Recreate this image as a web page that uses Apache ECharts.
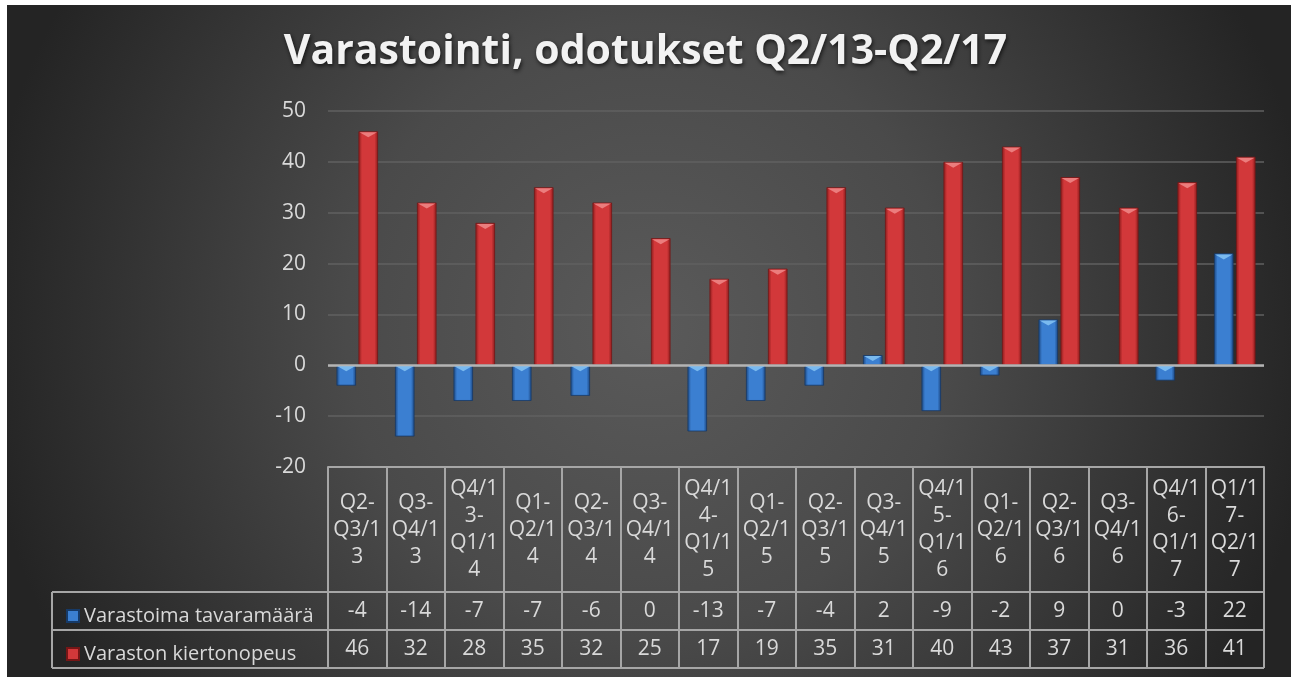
<!DOCTYPE html>
<html>
<head>
<meta charset="utf-8">
<script src="https://cdn.jsdelivr.net/npm/echarts@6/dist/echarts.min.js"></script>
<style>
html,body{margin:0;padding:0;background:#fff;}
#main{width:1291px;height:677px;}
</style>
</head>
<body>
<div id="main"></div>
<script>
var categories = ['Q2-Q3/13','Q3-Q4/13','Q4/13-Q1/14','Q1-Q2/14','Q2-Q3/14','Q3-Q4/14','Q4/14-Q1/15','Q1-Q2/15',
    'Q2-Q3/15','Q3-Q4/15','Q4/15-Q1/16','Q1-Q2/16','Q2-Q3/16','Q3-Q4/16','Q4/16-Q1/17','Q1/17-Q2/17'];
var tavaramaara = [-4,-14,-7,-7,-6,0,-13,-7,-4,2,-9,-2,9,0,-3,22];
var kiertonopeus = [46,32,28,35,32,25,17,19,35,31,40,43,37,31,36,41];
var yTicks = {min:-20, max:50, step:10};

var FONT = '"Open Sans", sans-serif';
var TXT = '#d9d9d9';
var LINE = '#a6a6a6';
var FS = 21;

/* rivitys kuten excelissä: viivan jälkeen ja 4 merkin paloihin */
function wrap(s){
    var parts = s.split(/(?<=-)/);
    var out = [];
    parts.forEach(function(p){
        for(var i=0;i<p.length;i+=4){ out.push(p.substr(i,4)); }
    });
    var res = [];
    out.forEach(function(l){
        if(l==='-' && res.length){ res[res.length-1]+='-'; } else { res.push(l); }
    });
    return res.join('\n');
}

var gridL = 328, gridR = 1264, gridT = 111, gridB = 467;
var row1 = 592, row2 = 630, row3 = 668, tableL = 52;
var BW = 19.5, GAP = 2.5;

var myChart = echarts.init(document.getElementById('main'));

function barColor(dark, light){
    return new echarts.graphic.LinearGradient(0,0,1,0,[
        {offset:0,color:dark},{offset:0.18,color:light},{offset:0.5,color:light},{offset:0.82,color:light},{offset:1,color:dark}
    ]);
}

/* viisteen kolmiot palkkien yläreunaan */
function bevel(params, api){
    var i = api.value(0);
    var base = api.coord([i, 0]);
    var off = (BW + GAP) / 2;
    var items = [];
    [[api.value(1), -off, '#86c4f5'], [api.value(2), off, '#f08a8a']].forEach(function(d){
        if(d[0] === 0) return;
        var top = api.coord([i, Math.max(d[0], 0)])[1];
        var cx = base[0] + d[1];
        items.push({type:'polygon',shape:{points:[[cx-BW/2+1,top+1],[cx+BW/2-1,top+1],[cx,top+6]]},
            style:{fill:d[2],opacity:0.85}});
    });
    return {type:'group',children:items};
}

var option = {
    animation:false,
    title:{
        text:'Varastointi, odotukset Q2/13-Q2/17',
        left:'center', top:27,
        textStyle:{color:'#f2f2f2',fontSize:41,fontWeight:'bold',fontFamily:FONT,
            textShadowColor:'rgba(0,0,0,0.7)',textShadowBlur:4,textShadowOffsetY:2,textShadowOffsetX:1}
    },
    legend:{
        orient:'vertical', left:61, top:600,
        itemWidth:12, itemHeight:12, itemGap:16,
        icon:'rect',
        textStyle:{color:TXT,fontSize:20,fontFamily:FONT,lineHeight:22},
        data:['Varastoima tavaramäärä','Varaston kiertonopeus']
    },
    graphic:[
        {type:'rect',z:-10,silent:true,shape:{x:7,y:5,width:1284,height:672},
         style:{fill:new echarts.graphic.RadialGradient(0.5,0.48,1.0,[
            {offset:0,color:'#5a5a5a'},{offset:0.45,color:'#4a4a4a'},{offset:1,color:'#242424'}])}},
        {type:'line',shape:{x1:tableL,y1:row1,x2:gridR,y2:row1},style:{stroke:LINE,lineWidth:2}},
        {type:'line',shape:{x1:tableL,y1:row2,x2:gridR,y2:row2},style:{stroke:LINE,lineWidth:2}},
        {type:'line',shape:{x1:tableL,y1:row3,x2:gridR,y2:row3},style:{stroke:LINE,lineWidth:2}},
        {type:'line',shape:{x1:tableL,y1:row1,x2:tableL,y2:row3},style:{stroke:LINE,lineWidth:2}}
    ],
    grid:{left:gridL,right:1291-gridR,top:gridT,bottom:677-gridB,containLabel:false},
    xAxis:[
        {type:'category',data:categories,position:'bottom',
         axisLine:{onZero:false,lineStyle:{color:LINE,width:2}},
         axisTick:{show:true,interval:0,length:row3-gridB,lineStyle:{color:LINE,width:2}},
         axisLabel:{interval:0,margin:63,verticalAlign:'middle',lineHeight:27,color:TXT,fontSize:FS,fontFamily:FONT,
            formatter:function(v){return wrap(v);}}},
        {type:'category',data:categories,position:'bottom',
         axisLine:{show:false,onZero:false},axisTick:{show:false},
         axisLabel:{interval:0,margin:(row1+row2)/2-gridB,verticalAlign:'middle',color:TXT,fontSize:FS,fontFamily:FONT,
            formatter:function(v,i){return String(tavaramaara[i]);}}},
        {type:'category',data:categories,position:'bottom',
         axisLine:{show:false,onZero:false},axisTick:{show:false},
         axisLabel:{interval:0,margin:(row2+row3)/2-gridB,verticalAlign:'middle',color:TXT,fontSize:FS,fontFamily:FONT,
            formatter:function(v,i){return String(kiertonopeus[i]);}}}
    ],
    yAxis:{
        type:'value',min:yTicks.min,max:yTicks.max,interval:yTicks.step,
        axisLine:{show:false},axisTick:{show:false},
        axisLabel:{margin:22,color:TXT,fontSize:FS,fontFamily:FONT},
        splitLine:{lineStyle:{color:'#606060',width:1.5}}
    },
    series:[
        {name:'Varastoima tavaramäärä',type:'bar',data:tavaramaara,barWidth:BW,barGap:(GAP/BW*100)+'%',
         itemStyle:{color:barColor('#1b4680','#3b7fd1'),borderColor:'#163a68',borderWidth:0.8},
         markLine:{silent:true,symbol:'none',label:{show:false},
            lineStyle:{color:'#b4b4b4',width:2.5,type:'solid'},data:[{yAxis:0}]}},
        {name:'Varaston kiertonopeus',type:'bar',data:kiertonopeus,barWidth:BW,
         itemStyle:{color:barColor('#8a1b1b','#d2383a'),borderColor:'#761616',borderWidth:0.8}},
        {type:'custom',renderItem:bevel,silent:true,z:5,
         data:categories.map(function(c,i){return [i, tavaramaara[i], kiertonopeus[i]];})}
    ]
};
myChart.setOption(option);
</script>
</body>
</html>
